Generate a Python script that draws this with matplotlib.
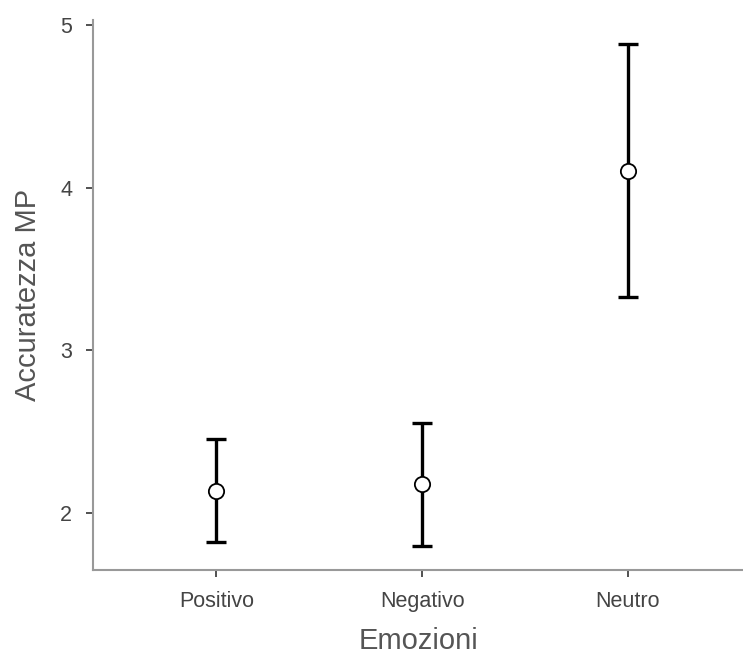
import numpy as np
import matplotlib.pyplot as plt

# -----------------
# Data
categories = ["Positivo", "Negativo", "Neutro"]
means = [2.135, 2.18, 4.10]
lower = [1.82, 1.80, 3.33]
upper = [2.455, 2.555, 4.88]

plt.rcParams["font.family"] = ["Liberation Sans", "DejaVu Sans"]

x = np.arange(len(categories))
yerr = np.array([np.subtract(means, lower), np.subtract(upper, means)])

fig = plt.figure(figsize=(7.43, 6.6), dpi=100)
ax = fig.add_axes([0.1252, 0.1364, 0.8748, 0.8333])

ax.errorbar(x, means, yerr=yerr, fmt="none", ecolor="black",
            elinewidth=2.4, capsize=7.5, capthick=2.4, zorder=2)
ax.plot(x, means, "o", ms=11, mfc="white", mec="black", mew=1.3, zorder=3)

ax.set_xlim(-0.6, 2.56)
ax.set_ylim(1.65, 5.03)
ax.set_xticks(x)
ax.set_xticklabels(categories)
ax.set_yticks([2, 3, 4, 5])

for s in ["top", "right"]:
    ax.spines[s].set_visible(False)
for s in ["left", "bottom"]:
    ax.spines[s].set_color("#999999")
    ax.spines[s].set_linewidth(1.5)

ax.tick_params(axis="both", length=5, width=1.2, color="#333333",
               labelcolor="#444444", labelsize=15.5, pad=10)

ax.set_xlabel("Emozioni", fontsize=21, color="#555555", labelpad=11)
ax.set_ylabel("Accuratezza MP", fontsize=21, color="#555555", labelpad=13)

fig.savefig("out.png", dpi=100)
